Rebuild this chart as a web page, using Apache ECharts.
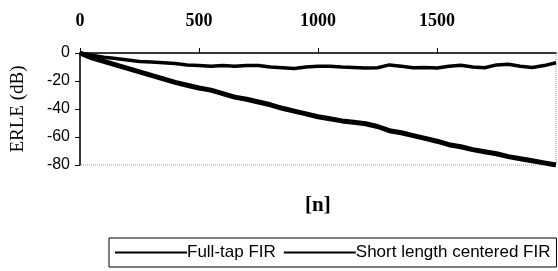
<!DOCTYPE html>
<html>
<head>
<meta charset="utf-8">
<script src="https://cdn.jsdelivr.net/npm/echarts@6/dist/echarts.min.js"></script>
<style>
  html, body { margin: 0; padding: 0; background: #fff; }
  #chart { width: 558px; height: 271px; }
</style>
</head>
<body>
<div id="chart"></div>
<script>
  // sample index n, every 50 samples
  var nValues = [0, 50, 100, 150, 200, 250, 300, 350, 400, 450, 500, 550, 600, 650, 700, 750, 800, 850, 900, 950,
    1000, 1050, 1100, 1150, 1200, 1250, 1300, 1350, 1400, 1450, 1500, 1550, 1600, 1650, 1700, 1750, 1800, 1850, 1900, 1950, 2000];
  var fullTap = [0, -1.5, -3, -4, -5, -6, -6.5, -7, -7.5, -8.5, -9, -9.5, -9, -9.5, -9, -8.9, -10, -10.5, -11, -10,
    -9.5, -9.5, -10, -10.3, -10.8, -10.5, -8.5, -9.5, -10.5, -10.3, -10.7, -9.5, -8.8, -10, -10.5, -8.5, -8, -9.5, -10.3, -9, -7];
  var shortCentered = [0, -3.5, -6, -8.5, -11, -13.5, -16, -18.5, -21, -23, -25, -26.5, -29, -31.5, -33, -35, -37, -39.5, -41.5, -43.5,
    -45.5, -47, -48.5, -49.5, -50.5, -52.5, -55.5, -57, -59, -61, -63, -65.5, -67, -69, -70.5, -72, -74, -75.5, -77, -78.5, -80];
  var seriesNames = ['Full-tap FIR', 'Short length centered FIR'];

  function pairs(vals) {
    return nValues.map(function (n, i) { return [n, vals[i]]; });
  }

  var chart = echarts.init(document.getElementById('chart'));
  var option = {
    animation: false,
    grid: {
      left: 80, right: 2, top: 53, bottom: 106,
      show: true,
      borderColor: '#999',
      borderType: 'dotted',
      borderWidth: 1
    },
    xAxis: {
      type: 'value',
      position: 'top',
      min: 0, max: 2000, interval: 500,
      axisLine: { lineStyle: { color: '#000', width: 1.5 } },
      axisTick: { show: true, length: 5, lineStyle: { color: '#000' } },
      splitLine: { show: false },
      axisLabel: {
        color: '#000', fontFamily: 'Liberation Serif', fontWeight: 'bold', fontSize: 18, margin: 23,
        showMaxLabel: false,
        formatter: function (v) { return String(v); }
      }
    },
    yAxis: {
      type: 'value',
      min: -80, max: 0, interval: 20,
      name: 'ERLE (dB)',
      nameLocation: 'middle',
      nameGap: 52,
      nameTextStyle: { color: '#000', fontFamily: 'Liberation Serif', fontSize: 19 },
      axisLine: { lineStyle: { color: '#000', width: 1.5 } },
      axisTick: { show: true, length: 5, lineStyle: { color: '#000' } },
      splitLine: { show: false },
      axisLabel: { color: '#000', fontFamily: 'Liberation Sans', fontSize: 16, margin: 10 }
    },
    legend: {
      left: 109, top: 238,
      data: seriesNames,
      icon: 'rect',
      itemWidth: 72, itemHeight: 2,
      itemGap: 8,
      padding: [6, 6, 6, 6],
      borderColor: '#000', borderWidth: 1,
      textStyle: { color: '#000', fontFamily: 'Liberation Sans', fontSize: 17, padding: [0, 0, 0, -5] }
    },
    graphic: [{
      type: 'text', left: 305, top: 195,
      style: { text: '[n]', fill: '#000', font: 'bold 21px "Liberation Serif"' }
    }],
    series: [
      {
        name: seriesNames[0], type: 'line', data: pairs(fullTap),
        showSymbol: false, itemStyle: { color: '#000' },
        lineStyle: { color: '#000', width: 3.5 }
      },
      {
        name: seriesNames[1], type: 'line', data: pairs(shortCentered),
        showSymbol: false, itemStyle: { color: '#000' },
        lineStyle: { color: '#000', width: 5 }
      }
    ]
  };
  chart.setOption(option);
</script>
</body>
</html>
